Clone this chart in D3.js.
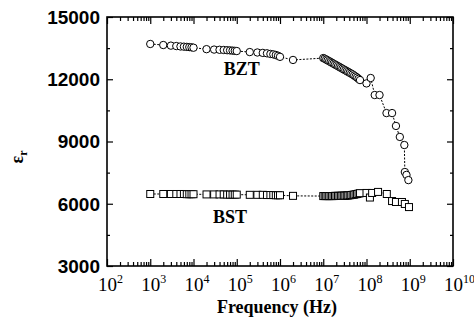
<!DOCTYPE html>
<html>
<head>
<meta charset="utf-8">
<script src="https://cdn.jsdelivr.net/npm/d3@7"></script>
<style>
  body { margin: 0; background: #fff; }
  svg { display: block; }
</style>
</head>
<body>
<svg id="chart" width="474" height="321"></svg>
<script>
// BZT (circles)
var bztFreq = [1e3, 2e3, 3e3, 4e3, 5e3, 6e3, 7e3, 8e3, 9e3, 1e4,
  2e4, 3e4, 4e4, 5e4, 6e4, 7e4, 8e4, 9e4, 1e5,
  2e5, 3e5, 4e5, 5e5, 6e5, 7e5, 8e5, 9e5, 1e6, 2e6,
  1.00e7, 1.08e7, 1.17e7, 1.26e7, 1.37e7, 1.48e7, 1.60e7, 1.73e7, 1.87e7, 2.02e7,
  2.19e7, 2.37e7, 2.56e7, 2.77e7, 2.99e7, 3.24e7, 3.50e7, 3.78e7, 4.09e7, 4.43e7,
  4.79e7, 5.18e7, 5.60e7, 6.05e7, 6.55e7, 7.08e7,
  1.0e8, 1.25e8, 1.55e8, 2.0e8, 2.9e8, 3.9e8, 4.8e8, 5.9e8, 7.5e8, 7.7e8, 8.4e8, 9.3e8];
var bztVal = [13700, 13650, 13620, 13600, 13580, 13570, 13560, 13550, 13540, 13520,
  13450, 13430, 13420, 13410, 13400, 13390, 13380, 13370, 13360,
  13310, 13290, 13270, 13250, 13220, 13200, 13170, 13130, 13080, 12930,
  13020, 12990, 12950, 12910, 12870, 12830, 12790, 12750, 12710, 12670,
  12630, 12590, 12550, 12510, 12470, 12430, 12390, 12350, 12310, 12270,
  12230, 12180, 12130, 12080, 12020, 11960,
  11800, 12060, 11240, 11240, 10370, 10370, 9750, 9220, 8830, 7530, 7390, 7140];

// BST (squares)
var bstFreq = [1e3, 2e3, 3e3, 4e3, 5e3, 6e3, 7e3, 8e3, 9e3, 1e4,
  2e4, 3e4, 4e4, 5e4, 6e4, 7e4, 8e4, 9e4, 1e5,
  2e5, 3e5, 4e5, 5e5, 6e5, 7e5, 8e5, 9e5, 1e6, 2e6,
  1.00e7, 1.08e7, 1.17e7, 1.26e7, 1.37e7, 1.48e7, 1.60e7, 1.73e7, 1.87e7, 2.02e7,
  2.19e7, 2.37e7, 2.56e7, 2.77e7, 2.99e7, 3.24e7, 3.50e7, 3.78e7, 4.09e7, 4.43e7,
  4.79e7, 5.18e7, 5.60e7, 6.05e7, 6.55e7, 7.08e7,
  1.0e8, 1.2e8, 1.35e8, 1.85e8, 2.95e8, 3.9e8, 4.8e8, 6.6e8, 7.7e8, 9.6e8];
var bstVal = [6470, 6470, 6470, 6470, 6470, 6470, 6460, 6460, 6460, 6460,
  6450, 6450, 6450, 6450, 6440, 6440, 6440, 6440, 6440,
  6430, 6430, 6430, 6420, 6420, 6420, 6410, 6410, 6410, 6380,
  6370, 6370, 6370, 6370, 6370, 6370, 6370, 6370, 6380, 6380,
  6380, 6380, 6380, 6390, 6390, 6390, 6400, 6400, 6410, 6420,
  6430, 6440, 6460, 6470, 6490, 6510,
  6520, 6300, 6520, 6570, 6470, 6130, 6085, 6085, 5990, 5840];

var yTicks = [3000, 6000, 9000, 12000, 15000];
var yMinor = [4500, 7500, 10500, 13500];
var xExponents = [2, 3, 4, 5, 6, 7, 8, 9, 10];

var svg = d3.select("#chart"),
    margin = {top: 17, right: 21, bottom: 55, left: 107},
    width = 474 - margin.left - margin.right,
    height = 321 - margin.top - margin.bottom,
    g = svg.append("g").attr("transform", "translate(" + margin.left + "," + margin.top + ")");

var x = d3.scaleLog().domain([1e2, 1e10]).range([0, width]);
var y = d3.scaleLinear().domain([3000, 15000]).range([height, 0]);

var allX = x.ticks().filter(function(d) { return d <= 1e10; });
var majorX = allX.filter(function(d) { return Math.abs(Math.log10(d) - Math.round(Math.log10(d))) < 1e-9; });
var minorX = allX.filter(function(d) { return majorX.indexOf(d) < 0; });

function tickAxis(axisFn, scale, vals, size, tr) {
  g.append("g")
    .attr("transform", tr)
    .call(axisFn(scale).tickValues(vals).tickSize(size).tickSizeOuter(0).tickFormat(""))
    .call(function(s) { s.select(".domain").remove(); s.selectAll("line").attr("stroke", "#000").attr("stroke-width", 1.2); });
}

// ticks pointing inward on all four sides
tickAxis(d3.axisBottom, x, majorX, -7, "translate(0," + height + ")");
tickAxis(d3.axisBottom, x, minorX, -4, "translate(0," + height + ")");
tickAxis(d3.axisTop, x, majorX, -7, "translate(0,0)");
tickAxis(d3.axisTop, x, minorX, -4, "translate(0,0)");
tickAxis(d3.axisLeft, y, yTicks, -6, "translate(0,0)");
tickAxis(d3.axisLeft, y, yMinor, -3, "translate(0,0)");
tickAxis(d3.axisRight, y, yTicks, -6, "translate(" + width + ",0)");
tickAxis(d3.axisRight, y, yMinor, -3, "translate(" + width + ",0)");

g.append("rect")
  .attr("width", width).attr("height", height)
  .attr("fill", "none").attr("stroke", "#000").attr("stroke-width", 1.6);

// y tick labels
g.selectAll(".ylab").data(yTicks).enter().append("text")
  .attr("x", -7).attr("y", function(d) { return y(d); })
  .attr("dy", "0.36em")
  .attr("text-anchor", "end")
  .attr("font-family", "Liberation Sans, Arial, sans-serif")
  .attr("font-weight", "bold").attr("font-size", 19)
  .text(function(d) { return d; });

// x tick labels: 10^n
var xl = g.selectAll(".xlab").data(xExponents).enter().append("text")
  .attr("x", function(d) { return x(Math.pow(10, d)) - 9; })
  .attr("y", height + 25)
  .attr("font-family", "Liberation Serif, Times New Roman, serif")
  .attr("font-size", 19);
xl.append("tspan").text("10");
xl.append("tspan").attr("dy", -8).attr("font-size", 12).text(function(d) { return d; });

// axis titles
g.append("text")
  .attr("x", width / 2 - 3).attr("y", height + 47)
  .attr("text-anchor", "middle")
  .attr("font-family", "Liberation Serif, Times New Roman, serif")
  .attr("font-weight", "bold").attr("font-size", 18)
  .text("Frequency (Hz)");

var yt = svg.append("text")
  .attr("transform", "translate(23,157) rotate(-90)")
  .attr("text-anchor", "middle")
  .attr("font-family", "Liberation Serif, Times New Roman, serif")
  .attr("font-weight", "bold").attr("font-size", 18);
yt.append("tspan").text("\u03b5");
yt.append("tspan").attr("dy", 4).attr("font-size", 12).text("r");

// series lines
var line = d3.line()
  .x(function(d) { return x(d[0]); })
  .y(function(d) { return y(d[1]); });

var bzt = d3.zip(bztFreq, bztVal);
var bst = d3.zip(bstFreq, bstVal);

[bzt, bst].forEach(function(data) {
  g.append("path")
    .datum(data)
    .attr("fill", "none")
    .attr("stroke", "#000")
    .attr("stroke-width", 1)
    .attr("stroke-dasharray", "2,1.5")
    .attr("d", line);
});

g.selectAll(".bzt").data(bzt).enter().append("circle")
  .attr("cx", function(d) { return x(d[0]); })
  .attr("cy", function(d) { return y(d[1]); })
  .attr("r", 3.7)
  .attr("fill", "#fff").attr("stroke", "#000").attr("stroke-width", 1);

g.selectAll(".bst").data(bst).enter().append("rect")
  .attr("x", function(d) { return x(d[0]) - 3.5; })
  .attr("y", function(d) { return y(d[1]) - 3.5; })
  .attr("width", 7).attr("height", 7)
  .attr("fill", "#fff").attr("stroke", "#000").attr("stroke-width", 1);

// series labels
g.append("text")
  .attr("x", x(1.3e5)).attr("y", y(12200))
  .attr("text-anchor", "middle")
  .attr("font-family", "Liberation Serif, Times New Roman, serif")
  .attr("font-weight", "bold").attr("font-size", 18)
  .text("BZT");

g.append("text")
  .attr("x", x(7e4)).attr("y", y(5080))
  .attr("text-anchor", "middle")
  .attr("font-family", "Liberation Serif, Times New Roman, serif")
  .attr("font-weight", "bold").attr("font-size", 18)
  .text("BST");
</script>
</body>
</html>
